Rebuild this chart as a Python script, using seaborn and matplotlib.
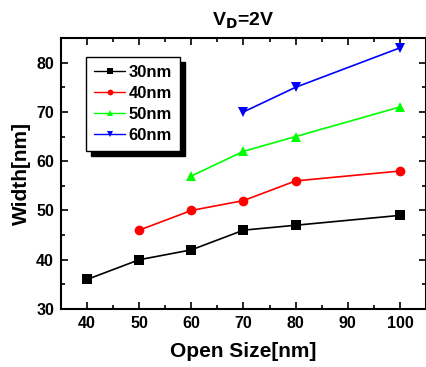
import matplotlib
matplotlib.use("Agg")
import matplotlib.pyplot as plt
from matplotlib.ticker import MultipleLocator
import seaborn as sns
import pandas as pd

# Data
size_30 = [40, 50, 60, 70, 80, 100]
width_30 = [36, 40, 42, 46, 47, 49]
size_40 = [50, 60, 70, 80, 100]
width_40 = [46, 50, 52, 56, 58]
size_50 = [60, 70, 80, 100]
width_50 = [57, 62, 65, 71]
size_60 = [70, 80, 100]
width_60 = [70, 75, 83]
series = ["30nm", "40nm", "50nm", "60nm"]
colors = ["black", "red", "#00ff00", "blue"]
markers = ["s", "o", "^", "v"]

frames = []
for name, xs, ys in zip(series, [size_30, size_40, size_50, size_60],
                        [width_30, width_40, width_50, width_60]):
    frames.append(pd.DataFrame({"Open Size": xs, "Width": ys, "Series": name}))
df = pd.concat(frames, ignore_index=True)

sns.set_style("ticks")
plt.rcParams["font.family"] = ["Liberation Sans", "DejaVu Sans"]
plt.rcParams["font.weight"] = "bold"
plt.rcParams["text.color"] = "black"
plt.rcParams["axes.labelcolor"] = "black"
plt.rcParams["xtick.color"] = "black"
plt.rcParams["ytick.color"] = "black"
plt.rcParams["axes.edgecolor"] = "black"

fig = plt.figure(figsize=(4.27, 3.67), dpi=100)
ax = fig.add_axes([61 / 427, 1 - 309 / 367, 365 / 427, 271 / 367])

sns.lineplot(data=df, x="Open Size", y="Width", hue="Series", style="Series",
             palette=colors, markers=markers, dashes=False, markersize=7,
             markeredgewidth=0, linewidth=1.2, ax=ax)

ax.set_xlim(35, 105)
ax.set_ylim(30, 85)
ax.xaxis.set_major_locator(MultipleLocator(10))
ax.xaxis.set_minor_locator(MultipleLocator(5))
ax.yaxis.set_major_locator(MultipleLocator(10))
ax.yaxis.set_minor_locator(MultipleLocator(5))
ax.tick_params(which="both", direction="in", top=True, right=True,
               labelsize=11.5, width=1.2, pad=5)
ax.tick_params(which="major", length=5)
ax.tick_params(which="minor", length=3)
for lbl in ax.get_xticklabels() + ax.get_yticklabels():
    lbl.set_fontweight("bold")
for sp in ax.spines.values():
    sp.set_linewidth(1.5)

ax.set_xlabel("Open Size[nm]", fontsize=15, fontweight="bold", labelpad=8)
ax.set_ylabel("Width[nm]", fontsize=15, fontweight="bold", labelpad=4)
ax.set_title("V$_\\mathbf{D}$=2V", fontsize=14, fontweight="bold", pad=9)

leg = ax.legend(loc="upper left", bbox_to_anchor=(0.068, 0.93), fontsize=12,
                frameon=True, fancybox=False, edgecolor="black",
                shadow={"color": "black", "alpha": 1, "ox": 3.5, "oy": -3.5},
                markerscale=0.6, handlelength=1.85, handletextpad=0.2,
                borderpad=0.5, labelspacing=0.35, borderaxespad=0, title=None)
leg.get_frame().set_linewidth(1.0)
for t in leg.get_texts():
    t.set_fontweight("bold")
for h in leg.get_lines():
    h.set_linewidth(1.0)

fig.savefig("out.png", dpi=100)
